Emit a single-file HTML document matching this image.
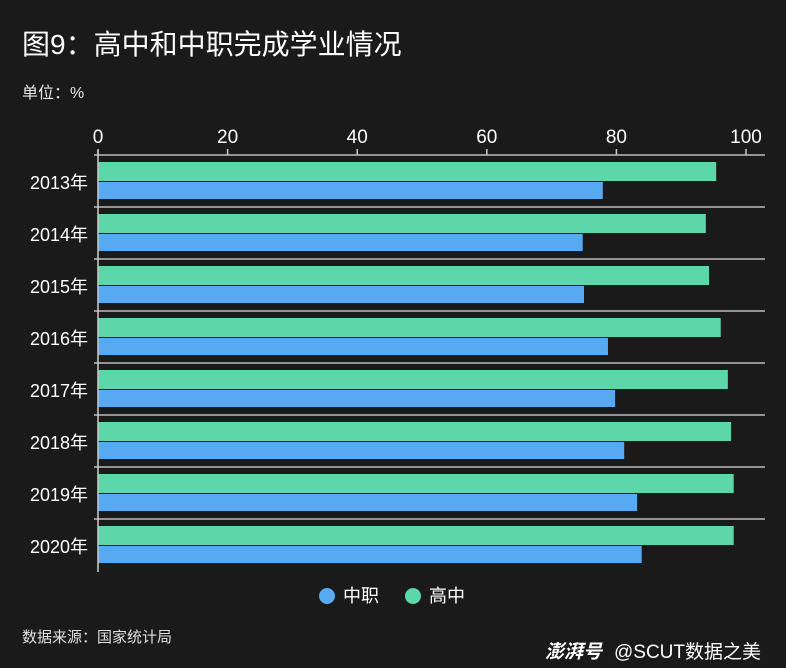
<!DOCTYPE html>
<html><head><meta charset="utf-8"><style>
body{margin:0;background:#1a1a1a;}
svg{display:block;font-family:"Liberation Sans","Noto Sans CJK SC",sans-serif;}
</style></head><body>
<svg id="c" width="786" height="668" viewBox="0 0 786 668">
<rect width="786" height="668" fill="#1a1a1a"/>
<text x="22" y="54" fill="#fff" font-size="28">图9：高中和中职完成学业情况</text>
<text x="22" y="98" fill="#e8e8e8" font-size="16">单位：%</text>
<g id="g"></g>
<g>
<circle cx="327" cy="596" r="8" fill="#57aaf2"/>
<text x="343" y="602" fill="#fff" font-size="18">中职</text>
<circle cx="413" cy="596" r="8" fill="#5dd7a9"/>
<text x="429" y="602" fill="#fff" font-size="18">高中</text>
</g>
<text x="22" y="642" fill="#e0e0e0" font-size="15">数据来源：国家统计局</text>
<text x="545" y="658" fill="#fff" font-size="19" font-weight="bold" font-style="italic">澎湃号</text>
<text x="614" y="658" fill="#fff" font-size="19">@SCUT数据之美</text>
</svg>
<script>
const categories=["2013年","2014年","2015年","2016年","2017年","2018年","2019年","2020年"];
const gaozhong=[95.4,93.8,94.3,96.1,97.2,97.7,98.1,98.1];
const zhongzhi=[77.9,74.8,75.0,78.7,79.8,81.2,83.2,83.9];
const ticks=[0,20,40,60,80,100];
const NS="http://www.w3.org/2000/svg";
const g=document.getElementById('g');
const x0=98,x1=746,top0=155,band=52;
const xs=v=>x0+(x1-x0)*v/100;
function mk(t,a){const e=document.createElementNS(NS,t);for(const k in a)e.setAttribute(k,a[k]);g.appendChild(e);return e;}
ticks.forEach((t,i)=>{
 const tx=mk('text',{x:xs(t),y:143,fill:'#fff','font-size':19,'text-anchor':'middle'});tx.textContent=t;
 
 
 const tl=mk('line',{x1:xs(t),x2:xs(t),y1:149,y2:155,stroke:'#ccc','stroke-width':1.5});
 
 
});
categories.forEach((c,i)=>{
 const y=top0+i*band;
 const sep=mk('line',{x1:94,x2:765,y1:y,y2:y,stroke:'#bbb','stroke-width':1.5});
 
 
 const gb=mk('rect',{x:x0,y:y+7,width:xs(gaozhong[i])-x0,height:19,fill:'#5dd7a9'});
 
 
 const bb=mk('rect',{x:x0,y:y+27,width:xs(zhongzhi[i])-x0,height:17,fill:'#57aaf2'});
 
 
 const lb=mk('text',{x:88,y:y+34,fill:'#fff','font-size':18,'text-anchor':'end'});lb.textContent=c;
 
 
});
const ax=mk('line',{x1:x0,x2:x0,y1:150,y2:572,stroke:'#ccc','stroke-width':1.5});


</script>
</body></html>
